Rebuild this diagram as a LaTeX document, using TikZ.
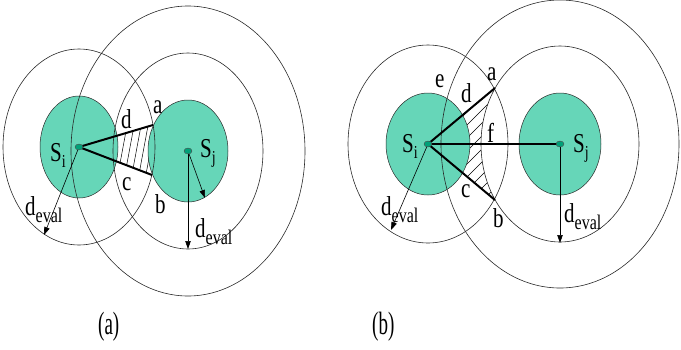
\documentclass[tikz,border=0pt]{standalone}
\usepackage{fontspec}
\setmainfont{Liberation Serif}
\usetikzlibrary{arrows.meta}
\definecolor{tealfill}{RGB}{102,214,184}
\definecolor{dotc}{RGB}{0,160,120}
\definecolor{ringc}{RGB}{40,40,40}
\newcommand\vs[2][21]{\scalebox{1}[1.3]{\fontsize{#1}{#1}\selectfont #2}}
\newcommand\capt[1]{\scalebox{1}[1.7]{\fontsize{19}{19}\selectfont #1}}
\newcommand\subl[2]{#1\raisebox{-5pt}{\fontsize{14}{14}\selectfont #2}}
\newcommand\deval{d\raisebox{-5.5pt}{\fontsize{16}{16}\selectfont eval}}
\begin{document}
\begin{tikzpicture}[x=1pt,y=-1pt,
  ring/.style={draw=ringc,line width=0.6pt},
  disk/.style={fill=tealfill,draw=ringc,line width=0.5pt},
  boldln/.style={line width=2pt},
  arr/.style={line width=0.6pt,-{Triangle[length=8pt,width=5.5pt]}},
  lbl/.style={inner sep=0pt,anchor=base west},
  hatchln/.style={line width=0.5pt},
  centerdot/.style={fill=dotc,draw=black!70,line width=0.4pt}]
\useasboundingbox (0,0) rectangle (681,349);
% ---------- panel (a) ----------
\coordinate (SiA) at (79,147);
\coordinate (SjA) at (188,151);
\coordinate (aA) at (153,125);
\coordinate (bA) at (152,175);
\coordinate (eSiA) at (44,235);
\coordinate (eSjA1) at (205,198);
\coordinate (eSjA2) at (188,249);
% ---------- panel (b) ----------
\coordinate (SiB) at (428,144);
\coordinate (SjB) at (560,144);
\coordinate (aB) at (495,88);
\coordinate (bB) at (495,200);
\coordinate (eSiB) at (391,230);
\coordinate (eSjB) at (560,243);
% hatching (a)
\begin{scope}
  \clip (SiA) -- (aA) -- (bA) -- cycle;
  \foreach \x in {116,123,130,137,144}
    \draw[hatchln] (\x,185) -- (\x+13,115);
\end{scope}
% hatching (b)
\begin{scope}
  \clip (SiB) -- (aB) -- (bB) -- cycle;
  \foreach \k in {0,...,13}
    \draw[hatchln] (440,100+13*\k) -- (500,40+13*\k);
\end{scope}
\fill[white] (SjB) ellipse [x radius=79, y radius=98];
% filled disks
\draw[disk] (SiA) ellipse [x radius=39, y radius=51];
\draw[disk] (SjA) ellipse [x radius=40, y radius=51];
\draw[disk] (SiB) ellipse [x radius=42, y radius=51];
\draw[disk] (SjB) ellipse [x radius=41, y radius=51];
% rings
\draw[ring] (SiA) ellipse [x radius=76, y radius=98];
\draw[ring] (SjA) ellipse [x radius=75, y radius=98];
\draw[ring] (SjA) ellipse [x radius=117, y radius=145];
\draw[ring] (SiB) ellipse [x radius=80, y radius=99];
\draw[ring] (SjB) ellipse [x radius=79, y radius=98];
\draw[ring] (SjB) ellipse [x radius=119, y radius=144];
% bold lines
\draw[boldln] (aA) -- (SiA) -- (bA);
\draw[boldln] (aB) -- (SiB) -- (bB);
\draw[boldln] (SiB) -- (SjB);
% arrows
\draw[arr] (SiA) -- (eSiA);
\draw[arr] (SjA) -- (eSjA1);
\draw[arr] (SjA) -- (eSjA2);
\draw[arr] (SiB) -- (eSiB);
\draw[arr] (SjB) -- (eSjB);
% center dots
\draw[centerdot] (SiA) ellipse [x radius=4, y radius=3];
\draw[centerdot] (SjA) ellipse [x radius=4, y radius=3];
\draw[centerdot] (SiB) ellipse [x radius=4, y radius=3];
\draw[centerdot] (SjB) ellipse [x radius=4, y radius=3];
% labels (a)
\node[lbl] (SiAl) at (50,161) {\vs{\subl{S}{i}}};
\node[lbl] (SjAl) at (200,157) {\vs{\subl{S}{j}}};
\node[lbl] (dAl) at (121,128) {\vs{d}};
\node[lbl] (aAl) at (153,113) {\vs{a}};
\node[lbl] (cAl) at (122,190) {\vs{c}};
\node[lbl] (bAl) at (155,213) {\vs{b}};
\node[lbl] (dvA1) at (25,215) {\vs{\deval}};
\node[lbl] (dvA2) at (195,237) {\vs{\deval}};
% labels (b)
\node[lbl] (SiBl) at (402,152) {\vs{\subl{S}{i}}};
\node[lbl] (SjBl) at (573,152) {\vs{\subl{S}{j}}};
\node[lbl] (eBl) at (435,87) {\vs{e}};
\node[lbl] (dBl) at (461,102) {\vs{d}};
\node[lbl] (aBl) at (487,80) {\vs{a}};
\node[lbl] (fBl) at (487,142) {\vs{f}};
\node[lbl] (cBl) at (461,197) {\vs{c}};
\node[lbl] (bBl) at (493,227) {\vs{b}};
\node[lbl] (dvB1) at (381,215) {\vs{\deval}};
\node[lbl] (dvB2) at (564,222) {\vs{\deval}};
% captions
\node[lbl] (capA) at (98,334) {\capt{(a)}};
\node[lbl] (capB) at (372,334) {\capt{(b)}};
\end{tikzpicture}
\end{document}
